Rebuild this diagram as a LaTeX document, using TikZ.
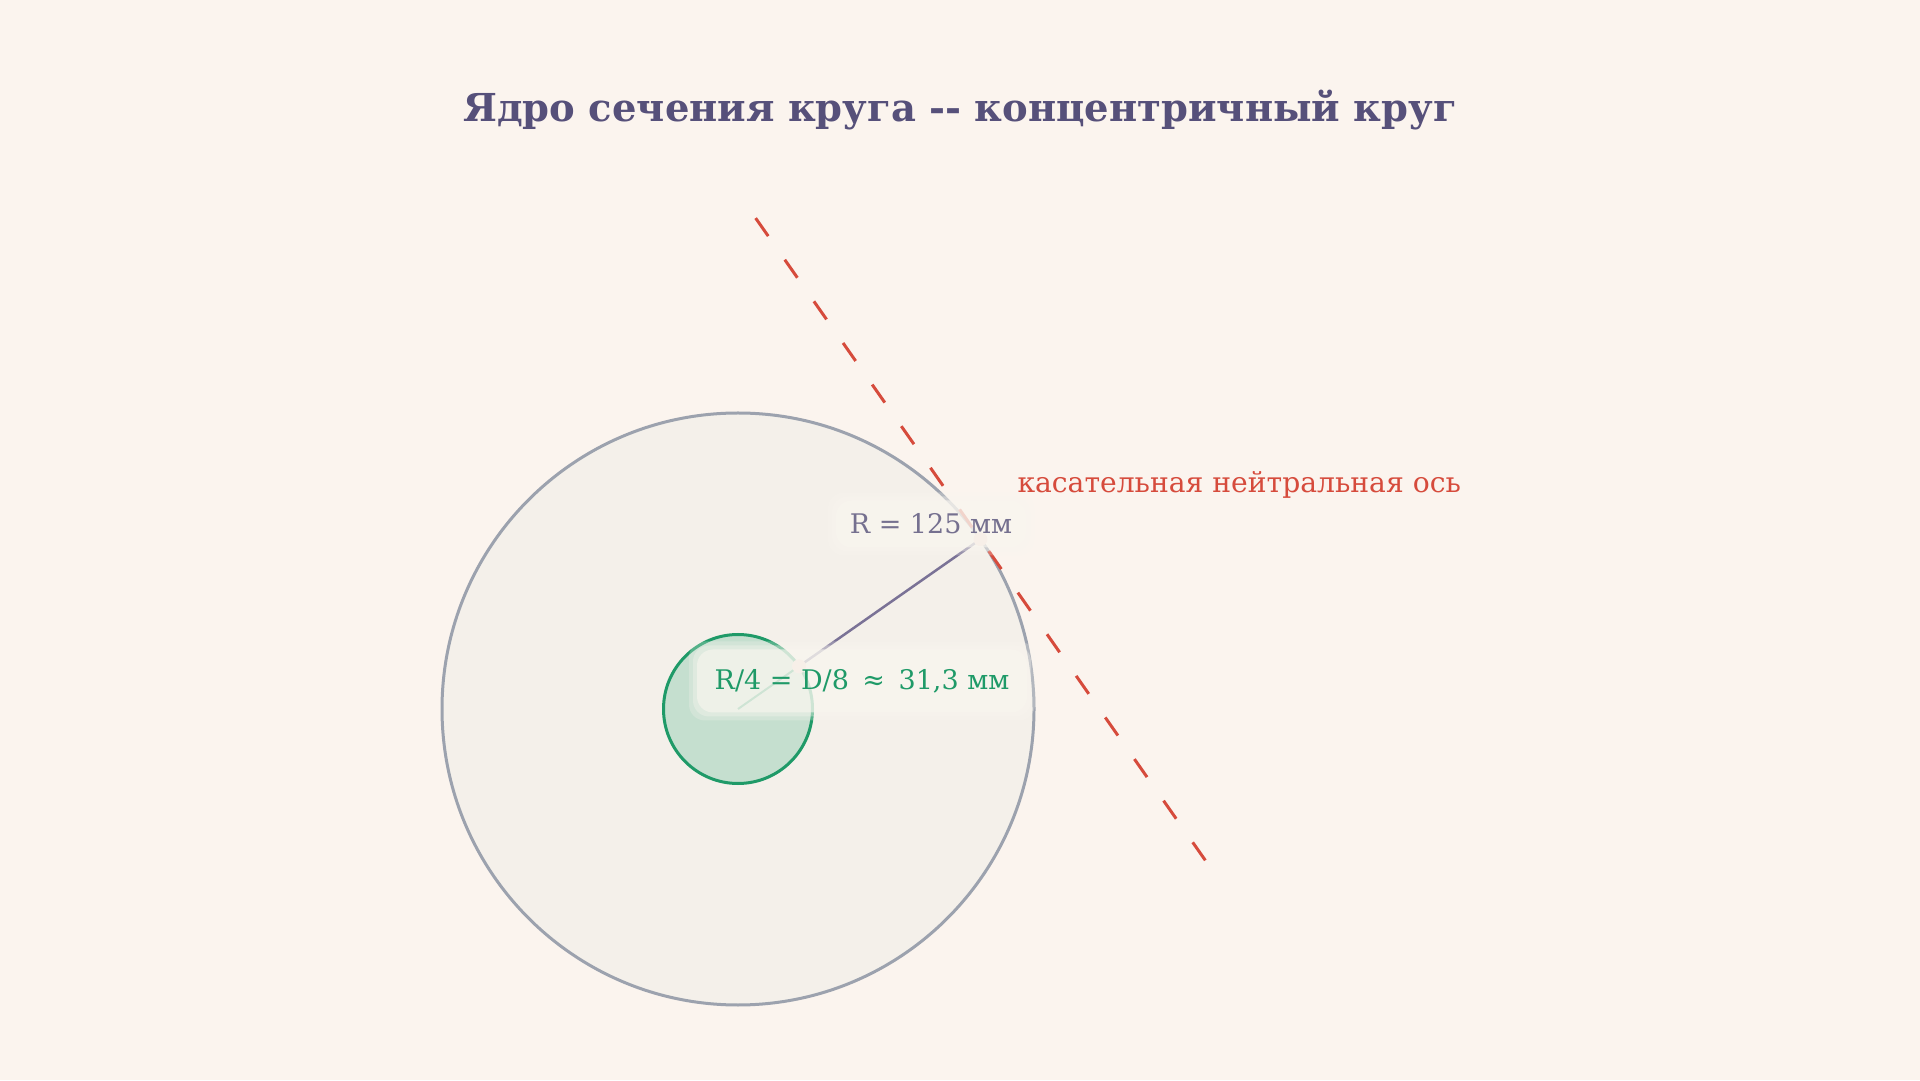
\documentclass[tikz,border=0pt]{standalone}
\usepackage{fontspec}
\setmainfont{DejaVu Serif}
\usetikzlibrary{calc}

\definecolor{paper}{HTML}{FBF4EE}
\definecolor{section}{HTML}{F4F0EA}
\definecolor{rim}{HTML}{9CA2AE}
\definecolor{kern}{HTML}{1F9A68}
\definecolor{kernfill}{HTML}{C5DFCF}
\definecolor{axisred}{HTML}{D64B3C}
\definecolor{radline}{HTML}{7A7296}
\definecolor{radtext}{HTML}{75708F}
\definecolor{titleink}{HTML}{56507A}
\definecolor{boxfill}{HTML}{F9F6EF}
\definecolor{dotpink}{HTML}{F3D5CD}

\tikzset{
    glow/.style={fill=boxfill, fill opacity=#1, rounded corners=16pt},
    tagtext/.style={inner sep=0pt, font=\fontsize{27}{32}\selectfont}
}

\begin{document}
\begin{tikzpicture}[x=1pt, y=1pt, line width=3pt]
    \def\Rad{296}
    \def\rad{74.5}

    \useasboundingbox [fill=paper] (0, 0) rectangle (1920, 1080);

    \node [text=titleink, font=\bfseries\fontsize{38.5}{46}\selectfont] (title) at (960, 970)
        {Ядро сечения круга -{}- концентричный круг};

    \coordinate (O) at (738, 371);
    \coordinate (P) at ($(O) + (35:\rad)$);
    \coordinate (T) at ($(O) + (35:\Rad)$);
    \coordinate (A) at ($(T) + (125:392)$);
    \coordinate (B) at ($(T) + (-55:392)$);
    \coordinate (rpos) at (931, 556);
    \coordinate (kpos) at (862, 399);

    \draw [rim, fill=section] (O) circle (\Rad);
    \draw [kern, fill=kernfill] (O) circle (\rad);

    \draw [kern, line width=2pt] (O) -- (P);
    \draw [radline, line width=2.5pt] (P) -- (T);
    \draw [axisred, dash pattern=on 22pt off 28.8pt] (A) -- (B);

    \foreach \point in {P, T}
        \fill [dotpink] (\point) circle (7);

    % soft label boxes
    \foreach \g/\op in {8/.25, 4/.35, 0/.6} {
        \fill [glow=\op] ($(rpos) + (-95-\g, -23.5-\g)$) rectangle ($(rpos) + (95+\g, 23.5+\g)$);
        \fill [glow=\op] ($(kpos) + (-165-\g, -31.5-\g)$) rectangle ($(kpos) + (165+\g, 31.5+\g)$);
    }

    \node [tagtext, text=radtext] (rlabel) at (rpos) {R = 125 мм};
    \node [tagtext, text=kern] (klabel) at (kpos) {R/4 = D/8\enspace≈\enspace31,3 мм};
    \node [tagtext, anchor=west, text=axisred, font=\fontsize{28.2}{33}\selectfont] (axislabel) at (1016, 595)
        {касательная нейтральная ось};
\end{tikzpicture}
\end{document}
